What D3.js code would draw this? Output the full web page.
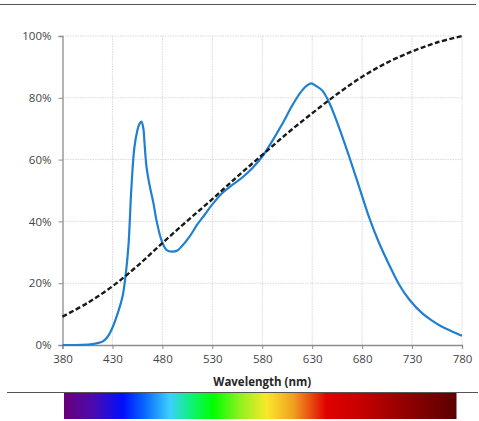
<!DOCTYPE html>
<html>
<head>
<meta charset="utf-8">
<script src="https://cdn.jsdelivr.net/npm/d3@7"></script>
<style>
  html, body { margin: 0; padding: 0; background: #fff; }
  svg { display: block; }
  text { font-family: "Open Sans", "Liberation Sans", sans-serif; }
</style>
</head>
<body>
<svg id="chart" width="479" height="421"></svg>
<script>
// ---- data ----
const spectrumNm = [380, 390, 400, 410, 415, 420, 425, 430, 435, 440, 443, 446, 449, 452, 455, 457, 459, 461, 462, 464, 467, 471, 474, 479, 484, 490, 495, 499, 507, 515, 522, 530, 540, 550, 560, 570, 580, 590, 600, 610, 618, 624, 629, 634, 640, 647, 657, 667, 677, 687, 697, 707, 717, 727, 740, 750, 760, 770, 780];
const spectrumPct = [0, 0, 0.05, 0.3, 0.6, 1.1, 2.6, 5.6, 10, 15.5, 22, 32, 51, 64, 69.5, 71.5, 72.3, 70, 66, 58, 52, 46, 40.5, 34, 30.8, 30.2, 30.6, 31.8, 35, 39, 42, 45.5, 49.2, 51.8, 54.2, 57.2, 61, 66, 71.5, 77.5, 81.6, 83.8, 84.7, 83.8, 82.4, 78.5, 70.3, 61, 51.2, 41.3, 33, 26, 19.6, 14.8, 10.3, 7.9, 5.9, 4.4, 3.0];
const sensNm = [380, 405, 430, 455, 480, 505, 530, 555, 580, 605, 630, 655, 680, 705, 730, 755, 780];
const sensPct = [9.2, 13.6, 19, 25.6, 33, 40.2, 47.2, 54.5, 61.5, 68.5, 75, 81.2, 86.8, 91.4, 95, 97.9, 100];
const xTicks = [380, 430, 480, 530, 580, 630, 680, 730, 780];
const yTicks = [0, 20, 40, 60, 80, 100];
const rainbowOffsets = [0, 0.075, 0.151, 0.21, 0.27, 0.32, 0.38, 0.448, 0.516, 0.584, 0.635, 0.669, 0.754, 0.84, 1];
const rainbowColors = ["#6a0078", "#4a0ab0", "#0010ff", "#0a70ff", "#3dd0ff", "#10f080", "#00ff00", "#90f020", "#f8e82a", "#f0a020", "#e84010", "#e00000", "#c80000", "#a00000", "#5a0000"];
const xTitle = "Wavelength (nm)";

// ---- drawing ----
(function () {
const svg = d3.select("#chart");
const pL = 62.5, pR = 462, pT = 36, pB = 345;
const x = d3.scaleLinear().domain([380, 780]).range([pL, pR]);
const y = d3.scaleLinear().domain([0, 100]).range([pB, pT]);

// top rule
svg.append("line").attr("x1", 0).attr("x2", 476).attr("y1", 4.5).attr("y2", 4.5)
  .attr("stroke", "#555").attr("stroke-width", 1.2);

// gridlines
const grid = svg.append("g");
grid.selectAll(".vg").data(xTicks.slice(1)).join("line")
  .attr("x1", d => x(d)).attr("x2", d => x(d)).attr("y1", pT).attr("y2", pB)
  .attr("stroke", "#dadada").attr("stroke-width", 1).attr("stroke-dasharray", "1.5,1");
grid.selectAll(".hg").data(yTicks.slice(1)).join("line")
  .attr("x1", pL).attr("x2", pR).attr("y1", d => y(d)).attr("y2", d => y(d))
  .attr("stroke", "#dadada").attr("stroke-width", 1).attr("stroke-dasharray", "1.5,1");

// axes
const yAxis = d3.axisLeft(y).tickValues(yTicks).tickFormat(d => d + "%").tickSize(4).tickPadding(7);
const gy = svg.append("g").attr("transform", `translate(${pL},0)`).call(yAxis);
gy.select(".domain").attr("stroke", "#8c8c8c").attr("stroke-width", 1.3);
gy.selectAll(".tick line").attr("stroke", "#8c8c8c");
gy.selectAll("text").attr("fill", "#454545").style("font-size", "11.5px");

const xAxis = d3.axisBottom(x).tickValues(xTicks).tickSize(4).tickPadding(6);
const gx = svg.append("g").attr("transform", `translate(0,${pB})`).call(xAxis);
gx.select(".domain").attr("stroke", "#8c8c8c").attr("stroke-width", 1.3);
gx.selectAll(".tick line").attr("stroke", "#8c8c8c");
gx.selectAll("text").attr("fill", "#454545").style("font-size", "11.5px");

svg.append("text").attr("x", (pL + pR) / 2).attr("y", 386)
  .attr("text-anchor", "middle").attr("fill", "#262626")
  .style("font-size", "11.5px").style("font-weight", "bold").text(xTitle);

// lines
const line = d3.line().curve(d3.curveCatmullRom.alpha(0.5)).x(d => x(d[0])).y(d => y(d[1]));
svg.append("path").datum(d3.zip(spectrumNm, spectrumPct)).attr("d", line)
  .attr("fill", "none").attr("stroke", "#1f80d0").attr("stroke-width", 2.2);
svg.append("path").datum(d3.zip(sensNm, sensPct)).attr("d", line)
  .attr("fill", "none").attr("stroke", "#1a1a1a").attr("stroke-width", 2.4).attr("stroke-dasharray", "5,2.5");

// bottom rule and rainbow
svg.append("line").attr("x1", 7).attr("x2", 478).attr("y1", 392.5).attr("y2", 392.5)
  .attr("stroke", "#555").attr("stroke-width", 1.2);
const grad = svg.append("defs").append("linearGradient").attr("id", "rainbow")
  .attr("x1", "0%").attr("x2", "100%").attr("y1", "0%").attr("y2", "0%");
grad.selectAll("stop").data(d3.zip(rainbowOffsets, rainbowColors)).join("stop")
  .attr("offset", d => d[0]).attr("stop-color", d => d[1]);
svg.append("rect").attr("x", 64).attr("y", 393).attr("width", 392.5).attr("height", 26)
  .attr("fill", "url(#rainbow)");
})();
</script>
</body>
</html>
